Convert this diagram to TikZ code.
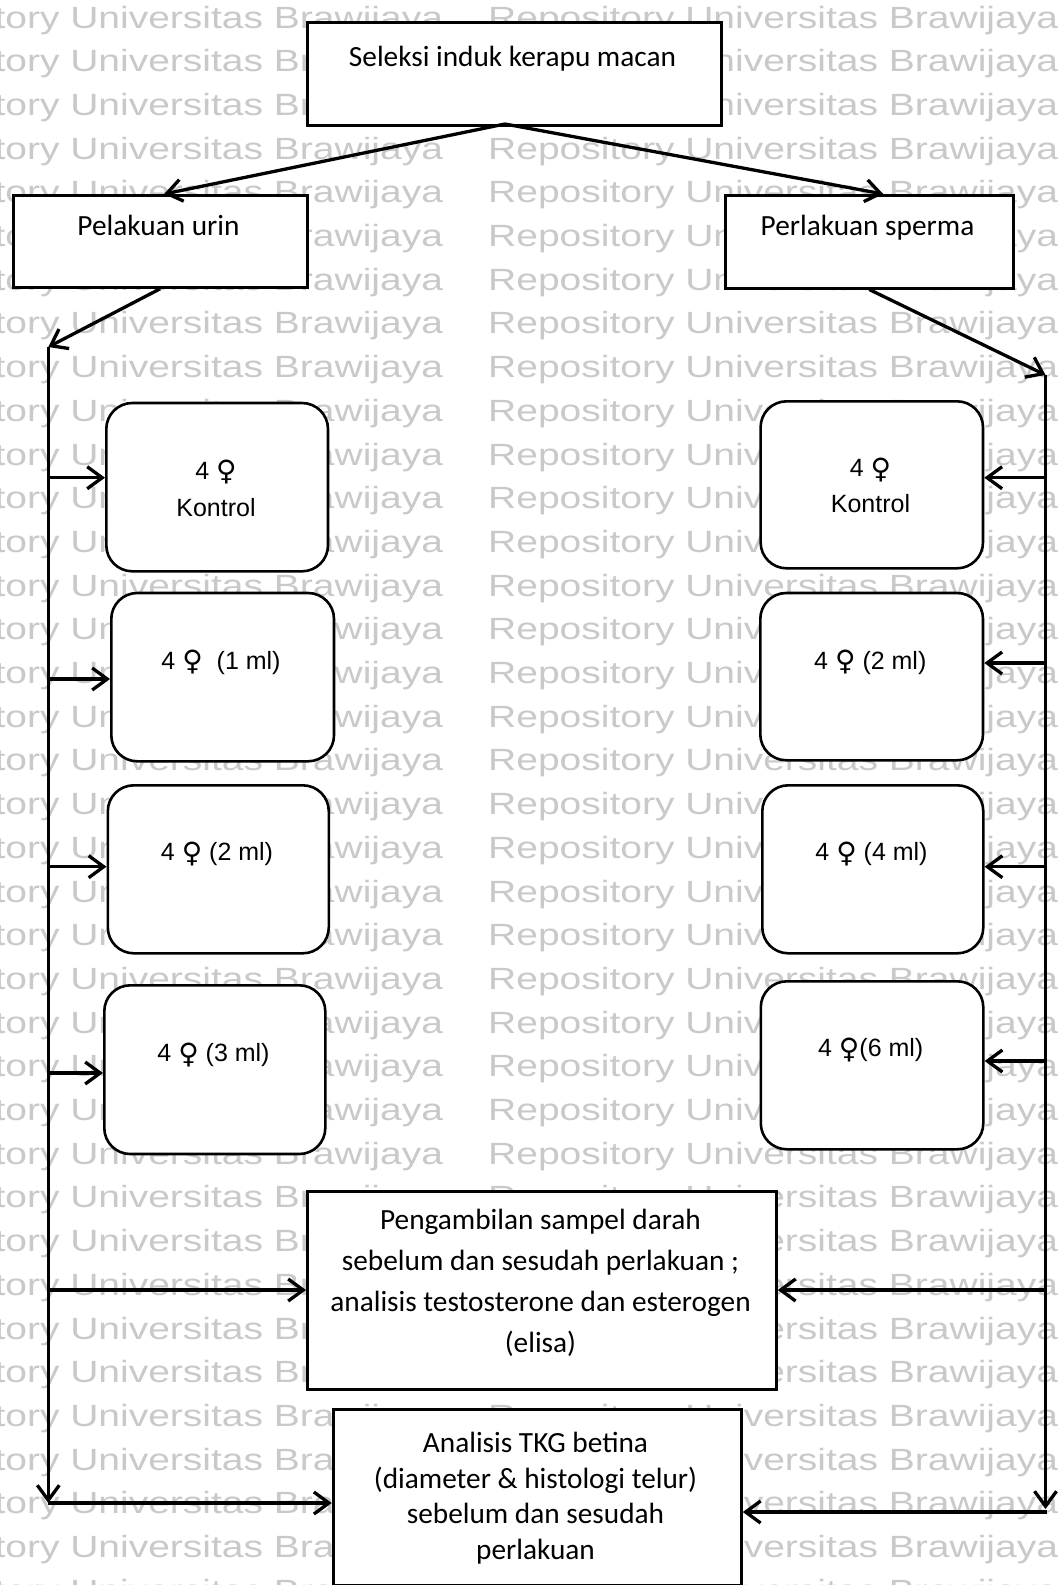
\documentclass[tikz,border=0pt]{standalone}
\usepackage{fontspec}
\usetikzlibrary{arrows.meta}
\newfontfamily\calfont{Carlito}
\newfontfamily\arifont{Liberation Sans}
\newfontfamily\symfont{DejaVu Sans}
\newcommand\fem{{\symfont\fontsize{28}{30}\selectfont\raisebox{-1.5pt}{♀}}}

\tikzset{
  arr/.style={line width=3.3pt, -{Straight Barb[length=15pt,width=22pt]}},
  rbox/.style={draw, line width=2.8pt, fill=white, inner sep=0pt, anchor=north west},
  gbox/.style={draw, line width=2.6pt, fill=white, rounded corners=26pt, inner sep=0pt, anchor=north west},
  ctext/.style={font=\calfont\fontsize{29.3}{35}\selectfont, inner sep=0pt, anchor=base},
  atext/.style={font=\arifont\fontsize{25}{30}\selectfont, inner sep=0pt, anchor=base},
  wmark/.style={font=\arifont\fontsize{30.7}{36}\selectfont, text=black!21, inner sep=0pt, anchor=base west}
}

\begin{document}
\begin{tikzpicture}[x=1pt,y=-1pt]
\useasboundingbox (0,0) rectangle (1062,1585);
\fill[white] (0,0) rectangle (1062,1585);

% repeated repository watermark
\begin{scope}
\clip (0,0) rectangle (1062,1585);
\foreach \k in {0,...,36}{
  \foreach \x [count=\i] in {-127,488}{
    \node[wmark] (wm-\k-\i) at (\x,{28+43.7*\k}) {\scalebox{1.27}[1]{Repository Universitas Brawijaya}};
  }
}
\end{scope}

% rectangular boxes
\node[rbox, minimum width=414.3pt, minimum height=103.3pt] (sel) at (305.7,20.7) {};
\node[rbox, minimum width=294pt, minimum height=92pt] (urin) at (11.7,194) {};
\node[rbox, minimum width=287.7pt, minimum height=92.7pt] (sperma) at (724,194) {};
\node[rbox, minimum width=469pt, minimum height=197.7pt] (samp) at (306,1190) {};
\node[rbox, minimum width=408.3pt, minimum height=176pt] (tkg) at (331.7,1408) {};

% rounded treatment boxes
\node[gbox, minimum width=221.7pt, minimum height=168.3pt] (kL1) at (105,401.7) {};
\node[gbox, minimum width=222.7pt, minimum height=168.3pt] (kL2) at (110,591.7) {};
\node[gbox, minimum width=221pt, minimum height=168pt] (kL3) at (106.5,784) {};
\node[gbox, minimum width=221pt, minimum height=168.7pt] (kL4) at (103,984) {};
\node[gbox, minimum width=222.4pt, minimum height=167pt] (kR1) at (759.3,400) {};
\node[gbox, minimum width=222.7pt, minimum height=167.3pt] (kR2) at (759,591.7) {};
\node[gbox, minimum width=221pt, minimum height=168pt] (kR3) at (761,784) {};
\node[gbox, minimum width=222.5pt, minimum height=168pt] (kR4) at (759.5,980) {};

% box texts
\node[ctext] (sel-t) at (512.5,66.7) {Seleksi induk kerapu macan};
\node[ctext] (urin-t) at (158.5,235) {Pelakuan urin};
\node[ctext] (sperma-t) at (867.5,235) {Perlakuan sperma};
\node[ctext] (samp-t1) at (540.5,1229.3) {Pengambilan sampel darah};
\node[ctext] (samp-t2) at (540.5,1270.3) {sebelum dan sesudah perlakuan ;};
\node[ctext] (samp-t3) at (540.5,1311.3) {analisis testosterone dan esterogen};
\node[ctext] (samp-t4) at (540.5,1352.3) {(elisa)};
\node[ctext] (tkg-t1) at (535.5,1452.7) {Analisis TKG betina};
\node[ctext] (tkg-t2) at (535.5,1488.3) {(diameter \& histologi telur)};
\node[ctext] (tkg-t3) at (535.5,1523.3) {sebelum dan sesudah};
\node[ctext] (tkg-t4) at (535.5,1559.3) {perlakuan};

\node[atext] (kL1-a) at (216,479) {4 \fem};
\node[atext] (kL1-b) at (216,516) {Kontrol};
\node[atext] (kL2-t) at (221,669.3) {4 \fem\ \ (1 ml)};
\node[atext] (kL3-t) at (217,860.7) {4 \fem\ (2 ml)};
\node[atext] (kL4-t) at (213.5,1061.7) {4 \fem\ (3 ml)};
\node[atext] (kR1-a) at (870.5,476.7) {4 \fem};
\node[atext] (kR1-b) at (870.5,512.7) {Kontrol};
\node[atext] (kR2-t) at (870.3,669) {4 \fem\ (2 ml)};
\node[atext] (kR3-t) at (871.5,860.7) {4 \fem\ (4 ml)};
\node[atext] (kR4-t) at (870.7,1056.7) {4 \fem(6 ml)};

% rail and branch points
\coordinate (apex) at (505,124);
\coordinate (Ltop) at (48.3,347);
\coordinate (Lbot) at (48.3,1503);
\coordinate (Rtop) at (1045.5,375);
\coordinate (Rbot) at (1045.5,1509);
\coordinate (Rfoot) at (1047,1512);
\coordinate (sL1) at (48.3,477.7);
\coordinate (sL2) at (48.3,679);
\coordinate (sL3) at (48.3,866.7);
\coordinate (sL4) at (48.3,1073);
\coordinate (sL5) at (48.3,1290);
\coordinate (sR1) at (1045.5,477.7);
\coordinate (sR2) at (1045.5,663);
\coordinate (sR3) at (1045.5,866.7);
\coordinate (sR4) at (1045.5,1061);
\coordinate (sR5) at (1045.5,1290);

% connectors
\draw[arr] (apex) -- ([xshift=4pt]urin.north);
\draw[arr] (apex) -- ([xshift=14pt]sperma.north);
\draw[arr] (urin.south) -- (Ltop);
\draw[arr] (sperma.south) -- (Rtop);
\draw[arr] (Ltop) -- (Lbot);
\draw[arr] (Rtop) -- (Rbot);
\draw[arr] (sL1) -- (sL1 -| kL1.west);
\draw[arr] (sL2) -- (sL2 -| kL2.west);
\draw[arr] (sL3) -- (sL3 -| kL3.west);
\draw[arr] (sL4) -- (sL4 -| kL4.west);
\draw[arr] (sL5) -- (sL5 -| samp.west);
\draw[arr] (sR1) -- (sR1 -| kR1.east);
\draw[arr] (sR2) -- (sR2 -| kR2.east);
\draw[arr] (sR3) -- (sR3 -| kR3.east);
\draw[arr] (sR4) -- (sR4 -| kR4.east);
\draw[arr] (sR5) -- (sR5 -| samp.east);
\draw[arr] (Lbot) -- (Lbot -| tkg.west);
\draw[arr] (Rfoot) -- (Rfoot -| tkg.east);
\end{tikzpicture}
\end{document}
